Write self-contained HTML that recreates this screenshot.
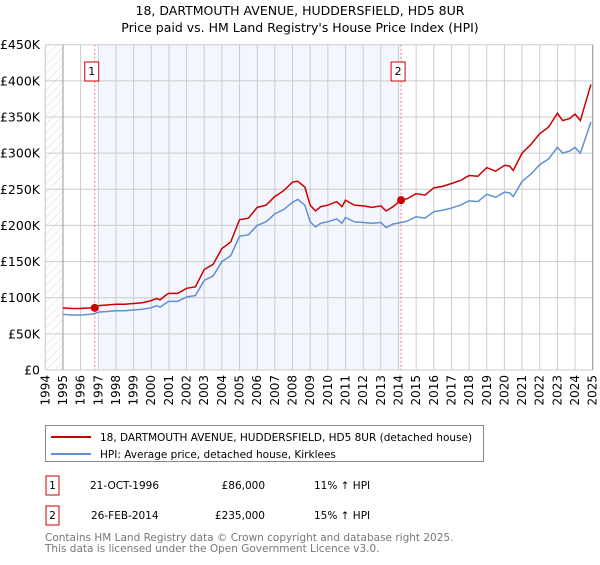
<!DOCTYPE html>
<html><head><meta charset="utf-8"><style>
body{margin:0;background:#fff;font-family:"Liberation Sans","DejaVu Sans",sans-serif;}
svg text{font-family:"DejaVu Sans","Liberation Sans",sans-serif;}
</style></head><body>
<svg id="c" width="600" height="560" xmlns="http://www.w3.org/2000/svg">
<defs><pattern id="hatch" width="6" height="6" patternUnits="userSpaceOnUse" patternTransform="rotate(45)"><line x1="0" y1="0" x2="0" y2="6" stroke="#d8d8d8" stroke-width="1"/></pattern></defs>
<text x="300" y="15" text-anchor="middle" font-size="12.5" fill="#000">18, DARTMOUTH AVENUE, HUDDERSFIELD, HD5 8UR</text>
<text x="300" y="32" text-anchor="middle" font-size="12.5" fill="#000">Price paid vs. HM Land Registry's House Price Index (HPI)</text>
<g id="plot"></g>
<g>
<rect x="45.5" y="425.5" width="438" height="36" fill="#fff" stroke="#888"/>
<line x1="51" y1="437" x2="91" y2="437" stroke="#cc0000" stroke-width="2"/>
<text x="100" y="441" font-size="10.5">18, DARTMOUTH AVENUE, HUDDERSFIELD, HD5 8UR (detached house)</text>
<line x1="51" y1="454" x2="91" y2="454" stroke="#6090d0" stroke-width="2"/>
<text x="100" y="458" font-size="10.5">HPI: Average price, detached house, Kirklees</text>
</g>
<g font-size="10.5">
<rect x="46" y="476" width="13" height="19" fill="#fff" stroke="#cc0000"/><text x="52.5" y="489" text-anchor="middle">1</text>
<text x="90" y="489">21-OCT-1996</text><text x="265" y="489" text-anchor="end">£86,000</text><text x="314" y="489">11% ↑ HPI</text>
<rect x="46" y="506" width="13" height="19" fill="#fff" stroke="#cc0000"/><text x="52.5" y="519" text-anchor="middle">2</text>
<text x="91" y="519">26-FEB-2014</text><text x="265" y="519" text-anchor="end">£235,000</text><text x="314" y="519">15% ↑ HPI</text>
</g>
<text x="45" y="541" font-size="10.5" fill="#777">Contains HM Land Registry data © Crown copyright and database right 2025.</text>
<text x="45" y="552" font-size="10.5" fill="#777">This data is licensed under the Open Government Licence v3.0.</text>
</svg>
<script>
const years=[1994,1995,1996,1997,1998,1999,2000,2001,2002,2003,2004,2005,2006,2007,2008,2009,2010,2011,2012,2013,2014,2015,2016,2017,2018,2019,2020,2021,2022,2023,2024,2025];
const yTicks=[0,50,100,150,200,250,300,350,400,450];
const yTickLabels=["£0","£50K","£100K","£150K","£200K","£250K","£300K","£350K","£400K","£450K"];
const hpiT=[1995.0,1995.5,1996.0,1996.5,1996.8,1997.0,1997.5,1998.0,1998.5,1999.0,1999.5,2000.0,2000.3,2000.5,2000.8,2001.0,2001.5,2002.0,2002.5,2003.0,2003.5,2004.0,2004.5,2005.0,2005.5,2006.0,2006.5,2007.0,2007.5,2008.0,2008.3,2008.7,2009.0,2009.3,2009.6,2010.0,2010.5,2010.8,2011.0,2011.5,2012.0,2012.5,2013.0,2013.3,2013.7,2014.15,2014.5,2015.0,2015.5,2016.0,2016.5,2017.0,2017.5,2018.0,2018.5,2019.0,2019.5,2020.0,2020.3,2020.5,2021.0,2021.5,2022.0,2022.5,2023.0,2023.3,2023.7,2024.0,2024.3,2024.9];
const hpiV=[77,76,76,77,78,80,81,82,82,83,84,86,89,87,92,95,95,101,103,124,130,150,158,185,187,200,205,216,222,232,236,228,205,198,203,205,209,203,211,205,204,203,204,197,202,204,206,212,210,219,221,224,228,234,233,243,239,246,245,240,261,271,284,292,308,300,303,308,300,343];
const priceT=hpiT;
const priceV=[86,85,85,86,86,89,90,91,91,92,93,96,99,97,103,106,106,113,115,139,146,168,177,208,210,225,228,240,248,260,261,253,228,220,226,228,233,226,235,228,227,225,227,220,226,235,237,244,242,252,254,258,262,269,268,280,275,283,282,276,300,312,327,336,355,345,348,354,345,395];
const sales=[[1996.8,86,"1"],[2014.15,235,"2"]];
const L=45.3,R=592.7,T=44.7,B=370;
const X=y=>L+(y-1994)*(R-L)/31, Y=v=>B-v*(B-T)/450;
const NS="http://www.w3.org/2000/svg", g=document.getElementById('plot');
function mk(tag,attrs,parent){const e=document.createElementNS(NS,tag);for(const k in attrs)e.setAttribute(k,attrs[k]);(parent||g).appendChild(e);return e;}
let e;
e=mk('rect',{x:X(1994),y:T,width:X(1995)-X(1994),height:B-T,fill:'url(#hatch)'});


e=mk('rect',{x:X(1997),y:T,width:X(2014.15)-X(1997),height:B-T,fill:'#f3f6fd'});


years.forEach(yr=>{
 e=mk('line',{x1:X(yr),x2:X(yr),y1:T,y2:B,stroke:'#ccc','stroke-width':1});
 
 
 const tx=X(yr)+4;
 e=mk('text',{x:tx,y:375,transform:`rotate(-90 ${tx} 375)`,'text-anchor':'end','font-size':12});
 e.textContent=yr;
 
 
});
yTicks.forEach((v,i)=>{
 e=mk('line',{x1:L,x2:R,y1:Y(v),y2:Y(v),stroke:'#ccc','stroke-width':1});
 
 
 e=mk('text',{x:40,y:Y(v)+4.5,'text-anchor':'end','font-size':12.5});
 e.textContent=yTickLabels[i];
 
 
});
e=mk('line',{x1:X(1995),x2:X(1995),y1:T,y2:B,stroke:'#999'});


e=mk('line',{x1:R,x2:R,y1:T,y2:B,stroke:'#999'});


sales.forEach(s=>{
 e=mk('line',{x1:X(s[0]),x2:X(s[0]),y1:T,y2:B,stroke:'#f08080','stroke-dasharray':'2,2'});
 
 
});
e=mk('polyline',{points:hpiT.map((t,i)=>X(t)+','+Y(hpiV[i])).join(' '),fill:'none',stroke:'#6090d0','stroke-width':1.5});


e=mk('polyline',{points:priceT.map((t,i)=>X(t)+','+Y(priceV[i])).join(' '),fill:'none',stroke:'#cc0000','stroke-width':1.5});


sales.forEach(s=>{
 e=mk('circle',{cx:X(s[0]),cy:Y(s[1]),r:4,fill:'#cc0000'});
 
 
 e=mk('rect',{x:X(s[0])-10,y:62,width:14,height:19,fill:'#fff',stroke:'#cc0000'});
 
 
 e=mk('text',{x:X(s[0])-3,y:75,'text-anchor':'middle','font-size':11});
 e.textContent=s[2];
 
 
});
</script>
</body></html>
